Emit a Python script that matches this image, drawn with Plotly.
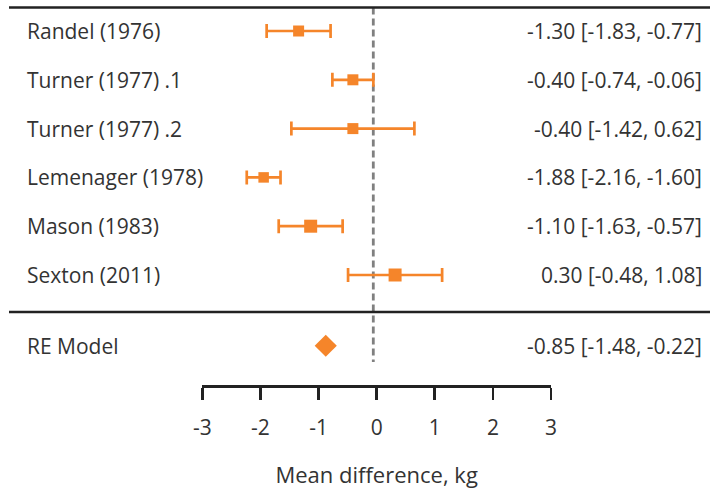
import plotly.graph_objects as go

studies = ["Randel (1976)", "Turner (1977) .1", "Turner (1977) .2",
           "Lemenager (1978)", "Mason (1983)", "Sexton (2011)"]
estimate = [-1.30, -0.40, -0.40, -1.88, -1.10, 0.30]
ci_low = [-1.83, -0.74, -1.42, -2.16, -1.63, -0.48]
ci_high = [-0.77, -0.06, 0.62, -1.60, -0.57, 1.08]
model_label = "RE Model"
model_est = -0.85
model_low = -1.48
model_high = -0.22
x_ticks = [-3, -2, -1, 0, 1, 2, 3]
x_title = "Mean difference, kg"

# styles
ORANGE = "#F5852A"
TEXT = "#333333"
FONT = "Open Sans"
FS = 21
sq_sizes = [11, 11, 11, 10.5, 13, 13]

W, H = 710, 489
row_y = list(range(len(studies)))
model_y = len(studies) + 0.45

# main data axis pixel mapping
px0, ppu = 377.0, 60.3
x_range = [(0 - px0) / ppu, (W - px0) / ppu]
row0_px, row_step = 31.0, 48.8
y_range = [(H - row0_px) / row_step, (0 - row0_px) / row_step]


def py(p):
    return 1 - p / H


fig = go.Figure()
fig.add_trace(go.Scatter(
    x=estimate, y=row_y, mode="markers",
    marker=dict(symbol="square", size=sq_sizes, color=ORANGE, opacity=1,
                line=dict(width=0)),
    error_x=dict(type="data", symmetric=False,
                 array=[h - e for h, e in zip(ci_high, estimate)],
                 arrayminus=[e - l for e, l in zip(estimate, ci_low)],
                 color=ORANGE, thickness=2.7, width=7),
    hoverinfo="skip", showlegend=False, cliponaxis=False))
fig.add_trace(go.Scatter(
    x=[model_est], y=[model_y], mode="markers",
    marker=dict(symbol="diamond", size=17, color=ORANGE, opacity=1, line=dict(width=0)),
    hoverinfo="skip", showlegend=False))
# invisible trace to show the tick axis
fig.add_trace(go.Scatter(x=[x_ticks[0], x_ticks[-1]], y=[0, 0], xaxis="x2", yaxis="y2",
                         mode="markers", marker=dict(opacity=0), hoverinfo="skip",
                         showlegend=False))

annotations = []
for lab, yv, e, lo, hi in zip(studies + [model_label], row_y + [model_y],
                              estimate + [model_est], ci_low + [model_low],
                              ci_high + [model_high]):
    annotations.append(dict(x=25 / W, y=yv, xref="paper", yref="y", text=lab,
                            showarrow=False, xanchor="left", yanchor="middle",
                            font=dict(family=FONT, size=FS, color=TEXT)))
    annotations.append(dict(x=704 / W, y=yv, xref="paper", yref="y",
                            text=f"{e:.2f} [{lo:.2f}, {hi:.2f}]",
                            showarrow=False, xanchor="right", yanchor="middle",
                            font=dict(family=FONT, size=FS, color=TEXT)))

shapes = [
    dict(type="line", xref="paper", yref="paper", x0=9 / W, x1=1, y0=py(7.5), y1=py(7.5),
         line=dict(color="#222222", width=2.6)),
    dict(type="line", xref="paper", yref="paper", x0=9 / W, x1=1, y0=py(312), y1=py(312),
         line=dict(color="#222222", width=2.6)),
    dict(type="line", xref="paper", yref="paper", x0=373.3 / W, x1=373.3 / W,
         y0=py(7.5), y1=py(362),
         line=dict(color="#808080", width=2.8, dash="7px,4px"), layer="below"),
]

axis_px = 385
fig.update_layout(
    width=W, height=H, margin=dict(l=0, r=0, t=0, b=0, autoexpand=False),
    paper_bgcolor="white", plot_bgcolor="rgba(0,0,0,0)",
    xaxis=dict(range=x_range, visible=False, domain=[0, 1], automargin=False),
    yaxis=dict(range=y_range, visible=False, domain=[0, 1], automargin=False),
    xaxis2=dict(range=[x_ticks[0], x_ticks[-1]], domain=[202.3 / W, 551 / W], anchor="y2",
                automargin=False,
                tickvals=x_ticks, ticktext=[str(t) for t in x_ticks],
                showline=True, linecolor="#222222", linewidth=2.6,
                ticks="outside", ticklen=12, tickwidth=2.6, tickcolor="#222222",
                ticklabelstandoff=10,
                showgrid=False, zeroline=False,
                tickfont=dict(family=FONT, size=FS, color=TEXT),
                title=dict(text=x_title, font=dict(family=FONT, size=22, color=TEXT),
                           standoff=30)),
    yaxis2=dict(domain=[py(axis_px), py(axis_px) + 0.02], anchor="x2", visible=False,
                range=[0, 1], automargin=False),
    annotations=annotations, shapes=shapes,
)
fig.write_html("out.html", config=dict(displayModeBar=False, staticPlot=True),
               post_script="document.body.style.margin='0';document.body.style.overflow='hidden';")
